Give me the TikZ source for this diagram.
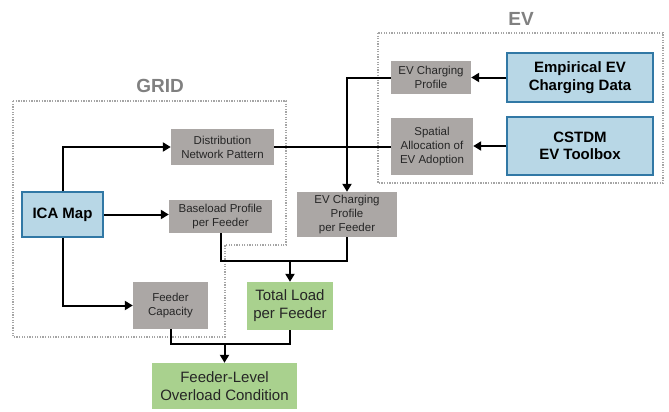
\documentclass[tikz,border=0pt]{standalone}
\usepackage{fontspec}
\setmainfont{Liberation Sans}
\usetikzlibrary{arrows.meta}
\definecolor{boxgray}{RGB}{171,167,165}
\definecolor{boxblue}{RGB}{184,215,230}
\definecolor{edgeblue}{RGB}{49,120,165}
\definecolor{boxgreen}{RGB}{169,209,142}
\definecolor{labgray}{RGB}{128,128,128}
\definecolor{dotgray}{RGB}{165,165,165}
\begin{document}
\begin{tikzpicture}[x=1pt,y=-1pt,
  graybox/.style={fill=boxgray,inner sep=0pt,align=center,text=black!85,font=\fontsize{11.5}{14}\selectfont},
  bluebox/.style={fill=boxblue,draw=edgeblue,line width=1.5pt,inner sep=0pt,align=center,font=\fontsize{15}{17.5}\selectfont\bfseries},
  greenbox/.style={fill=boxgreen,inner sep=0pt,align=center,text=black!85,font=\fontsize{15}{18}\selectfont},
  grouplabel/.style={text=labgray,font=\fontsize{19}{22}\selectfont\bfseries},
  dotbox/.style={draw=dotgray,line width=1.3pt,dash pattern=on 1.3pt off 1.3pt},
  conn/.style={draw=black,line width=2pt},
  arr/.style={conn,-{Triangle[length=8pt,width=9pt]}}]
\useasboundingbox (0,0) rectangle (669,412);

% group regions
\draw[dotbox] (13,101) -- (286,101) -- (286,245) -- (225,245) -- (225,337) -- (13,337) -- cycle;
\draw[dotbox] (378,33) rectangle (663,183);
\node[grouplabel] (gridlab) at (160,86) {GRID};
\node[grouplabel] (evlab) at (521,19) {EV};

% nodes
\node[bluebox,minimum width=81pt,minimum height=45pt] (ica) at (62.5,214.5) {ICA Map};
\node[graybox,minimum width=103pt,minimum height=36pt] (dist) at (222.5,147) {Distribution\\Network Pattern};
\node[graybox,minimum width=103pt,minimum height=33pt] (base) at (220.5,216.5) {Baseload Profile\\per Feeder};
\node[graybox,minimum width=75pt,minimum height=47pt] (cap) at (170.5,305.5) {Feeder\\Capacity};
\node[graybox,minimum width=80pt,minimum height=33pt] (evp) at (431,77.5) {EV Charging\\Profile};
\node[graybox,minimum width=82pt,minimum height=57pt] (spa) at (432,146.5) {Spatial\\Allocation of\\EV Adoption};
\node[bluebox,minimum width=146pt,minimum height=49pt] (emp) at (580,77.5) {Empirical EV\\Charging Data};
\node[bluebox,minimum width=146pt,minimum height=58pt] (cst) at (580,146) {CSTDM\\EV Toolbox};
\node[graybox,minimum width=100pt,minimum height=45pt] (evpf) at (347,214.5) {EV Charging\\Profile\\per Feeder};
\node[greenbox,minimum width=86pt,minimum height=48pt] (tot) at (290,306) {Total Load\\per Feeder};
\node[greenbox,minimum width=145pt,minimum height=46pt] (ovl) at (224.5,386) {Feeder-Level\\Overload Condition};

% connectors
\draw[arr] (ica.north) |- (dist.west);
\draw[arr] (ica.east) -- (ica.east -| base.west);
\draw[arr] (ica.south) |- (cap.west);
\draw[conn] (dist.east) -- (dist.east -| spa.west);
\draw[arr] (emp.west) -- (evp.east);
\draw[arr] (cst.west) -- (cst.west -| spa.east);
\draw[arr] (evp.west) -| (evpf.north);

\coordinate (j1) at (290,261);
\draw[conn] (base.south) |- (j1);
\draw[conn] (evpf.south) |- (j1);
\draw[arr] (j1) -- (tot.north);

\coordinate (j2) at (224.5,344);
\draw[conn] (cap.south) |- (j2);
\draw[conn] (tot.south) |- (j2);
\draw[arr] (j2) -- (ovl.north);
\end{tikzpicture}
\end{document}
